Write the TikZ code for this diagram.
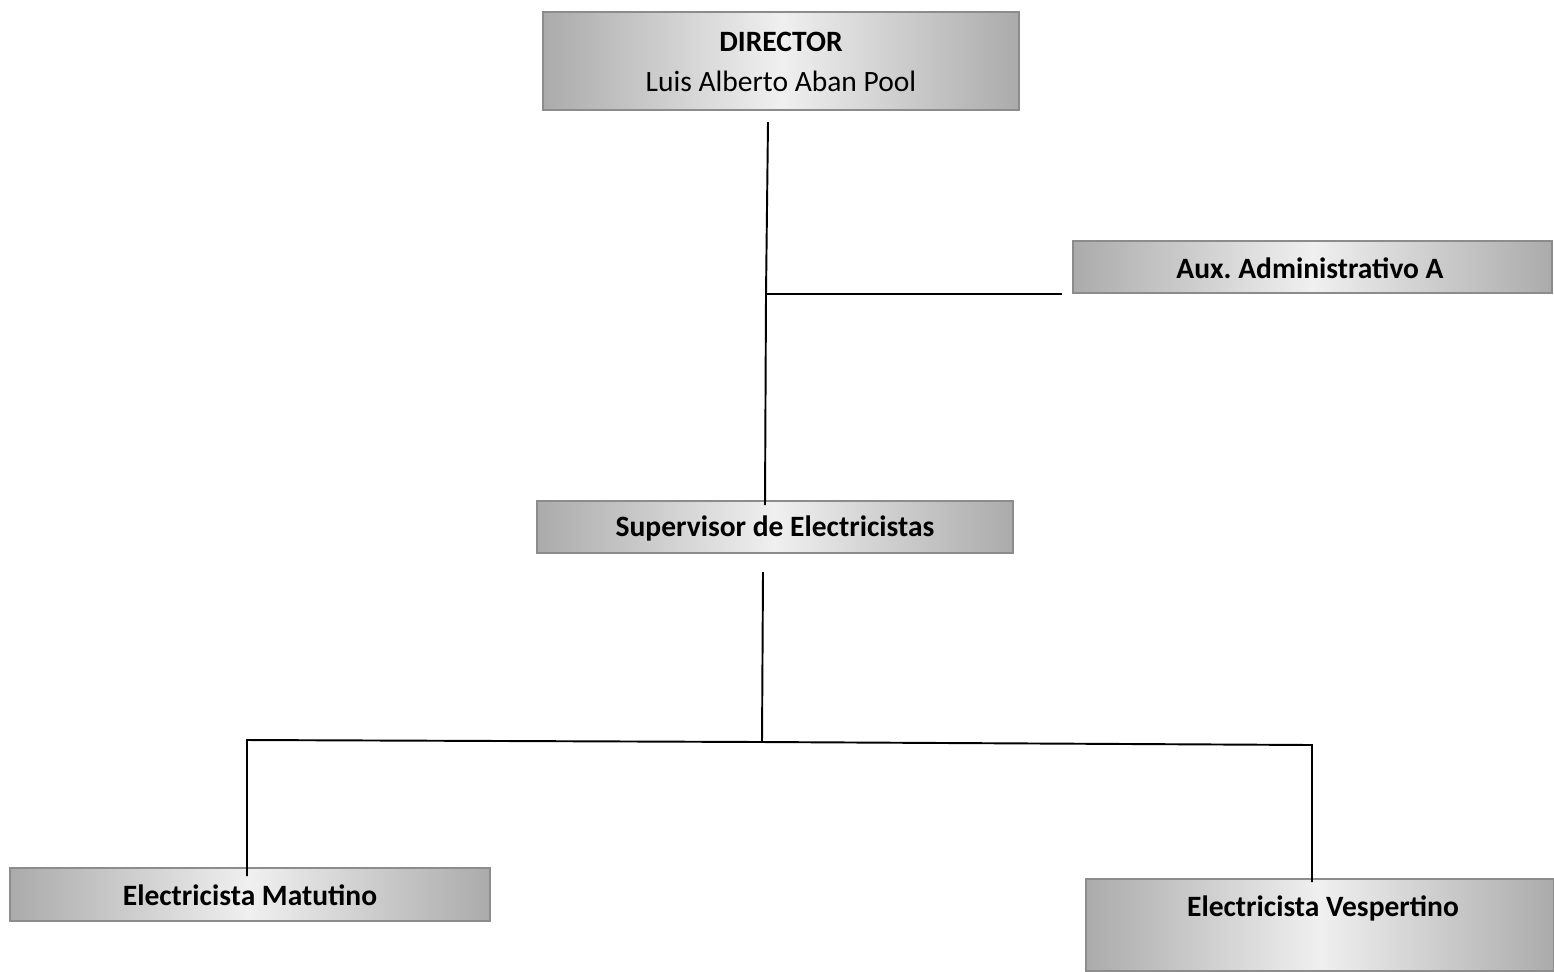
\documentclass[tikz,border=0pt]{standalone}
\usepackage{fontspec}
\setmainfont{Carlito}
\begin{document}
\begin{tikzpicture}[x=0.02cm,y=-0.02cm,
  box/.style={rectangle, inner sep=0pt, left color=black!33, right color=black!33, middle color=black!6, draw=black!45, line width=0.6pt},
  lbl/.style={font=\fontsize{16.8}{20}\selectfont\bfseries, text=black},
  conn/.style={line width=1.1pt, black}]
\useasboundingbox (0,0) rectangle (1554,971);
% boxes
\node[box, minimum width=476*0.02cm, minimum height=98*0.02cm] (dir) at (781,61) {};
\node[lbl, align=center] (dirt) at (781,62) {DIRECTOR\\[3pt]{\mdseries Luis Alberto Aban Pool}};
\node[box, minimum width=479*0.02cm, minimum height=52*0.02cm] (aux) at (1312.5,267) {};
\node[lbl] (auxt) at (1310,268) {Aux.\ Administrativo A};
\node[box, minimum width=476*0.02cm, minimum height=52*0.02cm] (sup) at (775,527) {};
\node[lbl] (supt) at (775,528) {Supervisor de Electricistas};
\node[box, minimum width=480*0.02cm, minimum height=53*0.02cm] (mat) at (250,894.5) {};
\node[lbl] (matt) at (250,895) {Electricista Matutino};
\node[box, minimum width=468*0.02cm, minimum height=92*0.02cm] (ves) at (1320,925) {};
\node[lbl] (vest) at (1323,908) {Electricista Vespertino};
% connector coordinates
\coordinate (d1) at (768,122);
\coordinate (j1) at (766,294);
\coordinate (a1) at (1062,294);
\coordinate (s0) at (765,505);
\coordinate (s1) at (763,572);
\coordinate (j2) at (762,742);
\coordinate (l1) at (247,740);
\coordinate (l2) at (247,876);
\coordinate (r1) at (1312,745);
\coordinate (r2) at (1312,882);
% connectors
\draw[conn] (d1) -- (j1) -- (s0);
\draw[conn] (j1) -- (a1);
\draw[conn] (s1) -- (j2);
\draw[conn] (l2) -- (l1) -- (j2) -- (r1) -- (r2);
\end{tikzpicture}
\end{document}
